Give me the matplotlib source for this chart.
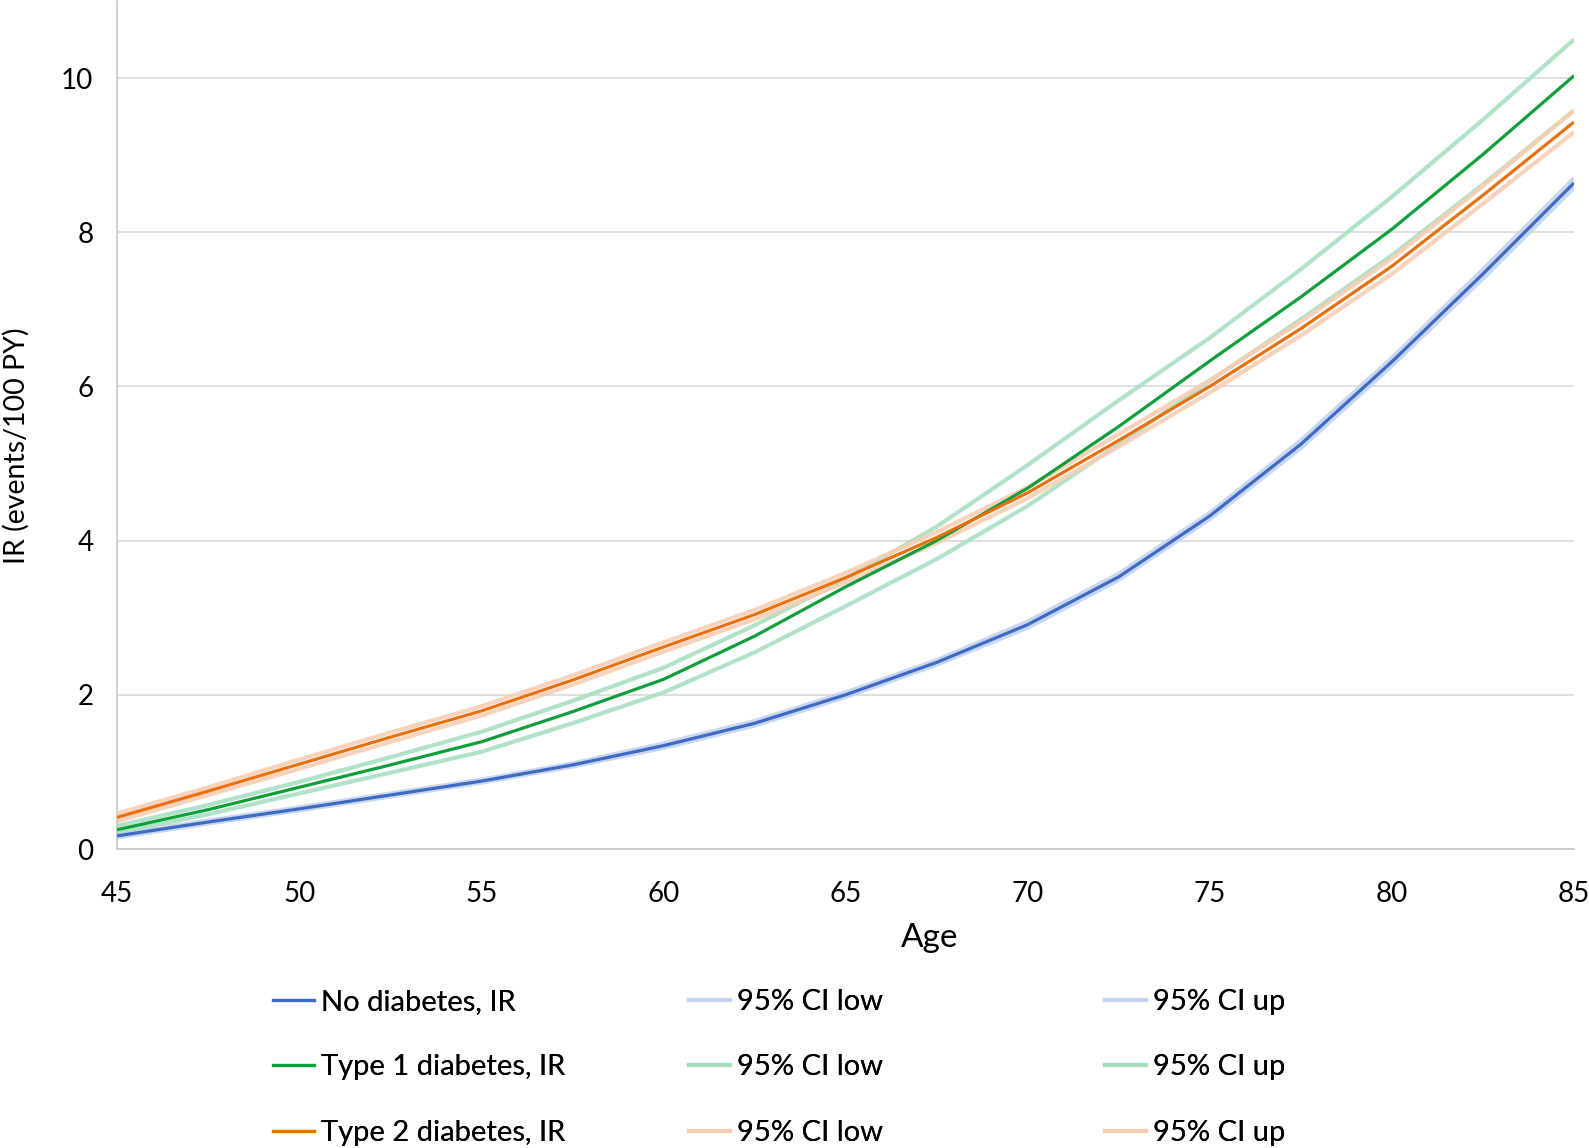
import matplotlib
matplotlib.use("Agg")
import matplotlib.pyplot as plt
from matplotlib.lines import Line2D

plt.rcParams['font.family'] = ['Lato', 'DejaVu Sans']

age = [45, 47.5, 50, 52.5, 55, 57.5, 60, 62.5, 65, 67.5, 70, 72.5, 75, 77.5, 80, 82.5, 85]

no_ir = [0.17, 0.35, 0.52, 0.70, 0.88, 1.09, 1.34, 1.63, 2.00, 2.42, 2.91, 3.53, 4.32, 5.25, 6.32, 7.46, 8.64]
no_lo = [0.15, 0.33, 0.50, 0.68, 0.86, 1.07, 1.31, 1.60, 1.97, 2.39, 2.87, 3.49, 4.28, 5.20, 6.27, 7.40, 8.58]
no_up = [0.19, 0.37, 0.54, 0.72, 0.90, 1.11, 1.37, 1.66, 2.03, 2.45, 2.95, 3.57, 4.36, 5.30, 6.37, 7.52, 8.70]

t1_ir = [0.25, 0.51, 0.80, 1.09, 1.39, 1.78, 2.20, 2.76, 3.40, 4.00, 4.68, 5.48, 6.33, 7.16, 8.04, 9.01, 10.03]
t1_lo = [0.21, 0.45, 0.72, 0.99, 1.26, 1.63, 2.03, 2.55, 3.15, 3.76, 4.45, 5.25, 6.07, 6.87, 7.70, 8.62, 9.58]
t1_up = [0.30, 0.57, 0.87, 1.19, 1.52, 1.92, 2.35, 2.90, 3.50, 4.18, 4.98, 5.82, 6.63, 7.52, 8.46, 9.46, 10.50]

t2_ir = [0.41, 0.75, 1.10, 1.45, 1.79, 2.19, 2.62, 3.04, 3.52, 4.04, 4.62, 5.30, 6.00, 6.75, 7.56, 8.48, 9.43]
t2_lo = [0.36, 0.70, 1.04, 1.39, 1.73, 2.13, 2.56, 2.98, 3.46, 3.97, 4.55, 5.22, 5.92, 6.66, 7.46, 8.37, 9.30]
t2_up = [0.46, 0.80, 1.16, 1.51, 1.85, 2.25, 2.68, 3.10, 3.58, 4.11, 4.69, 5.38, 6.08, 6.84, 7.66, 8.60, 9.58]

labels_ir = ["No diabetes, IR", "Type 1 diabetes, IR", "Type 2 diabetes, IR"]
label_lo = "95% CI low"
label_up = "95% CI up"
xticks = [45, 50, 55, 60, 65, 70, 75, 80, 85]
yticks = [0, 2, 4, 6, 8, 10]

main_colors = ["#3F6AC4", "#0E9F3C", "#E8700E"]
ci_colors = ["#C3D3EF", "#A8DFC0", "#F8CDB3"]

fig = plt.figure(figsize=(15.89, 11.48), dpi=100)
ax = fig.add_axes([117/1589, 1 - 849/1148, 1457/1589, 848/1148])

series = [(no_ir, no_lo, no_up), (t1_ir, t1_lo, t1_up), (t2_ir, t2_lo, t2_up)]
for (ir, lo, up), cc in zip(series, ci_colors):
    ax.plot(age, lo, color=cc, lw=3.0, alpha=0.9, solid_capstyle='butt',
            solid_joinstyle='round', zorder=2)
    ax.plot(age, up, color=cc, lw=3.0, alpha=0.9, solid_capstyle='butt',
            solid_joinstyle='round', zorder=2)
for (ir, lo, up), mc in zip(series, main_colors):
    ax.plot(age, ir, color=mc, lw=2.3, solid_capstyle='butt',
            solid_joinstyle='round', zorder=3)

ax.set_xlim(45, 85)
ax.set_ylim(0, 11)
ax.set_xticks(xticks)
ax.set_yticks(yticks)
ax.tick_params(axis='both', length=0, labelsize=20)
ax.tick_params(axis='x', pad=23)
ax.tick_params(axis='y', pad=17)
ax.grid(axis='y', color='#D9D9D9', lw=1.2)
ax.set_axisbelow(True)
for s in ['top', 'right']:
    ax.spines[s].set_visible(False)
ax.spines['left'].set_color('#C8C8C8')
ax.spines['bottom'].set_color('#C8C8C8')
ax.spines['left'].set_linewidth(1.2)
ax.spines['bottom'].set_linewidth(1.2)

ax.set_xlabel("Age", fontsize=24)
ax.xaxis.set_label_coords(0.558, -0.087)
ax.set_ylabel("IR (events/100 PY)", fontsize=20.5)
ax.yaxis.set_label_coords(-0.060, 0.475)

col_specs = [
    ([Line2D([], [], color=c, lw=2.3) for c in main_colors], labels_ir, 273),
    ([Line2D([], [], color=c, lw=3.0) for c in ci_colors], [label_lo] * 3, 689),
    ([Line2D([], [], color=c, lw=3.0) for c in ci_colors], [label_up] * 3, 1105),
]
for handles, labs, xpx in col_specs:
    leg = fig.legend(handles, labs, loc='upper left',
                     bbox_to_anchor=(xpx / 1589, 1 - 989 / 1148),
                     frameon=False, fontsize=21, handlelength=1.4,
                     handletextpad=0.25, labelspacing=1.35, borderpad=0,
                     borderaxespad=0)
    fig.add_artist(leg)

fig.savefig("out.png", dpi=100, facecolor='white')
